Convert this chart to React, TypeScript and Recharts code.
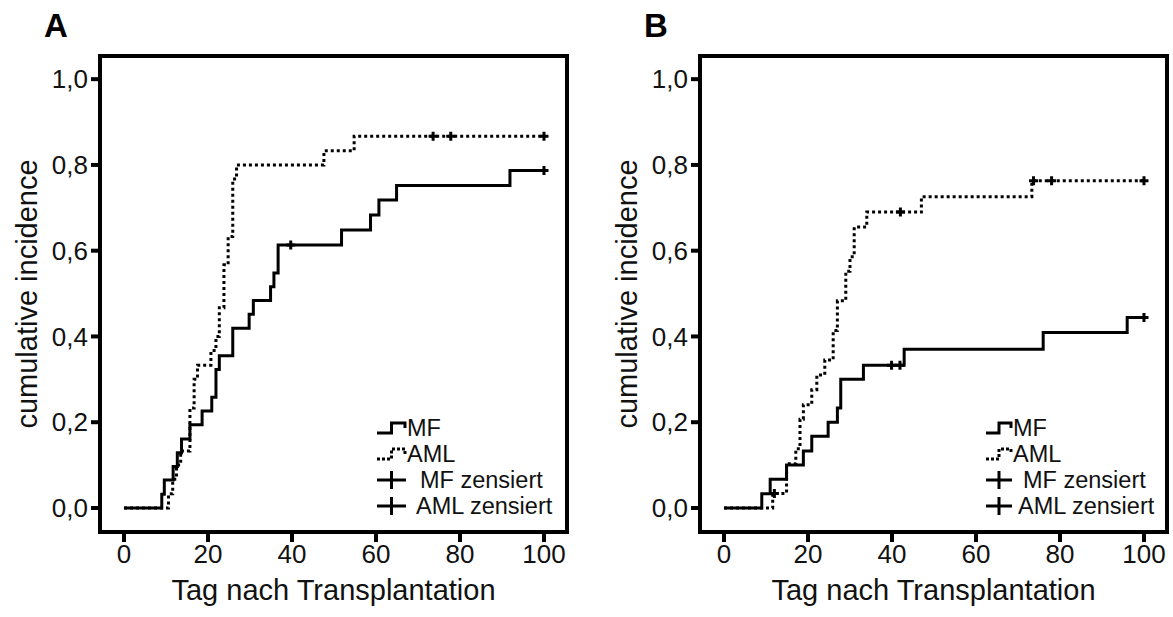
import { ComposedChart, Line, XAxis, YAxis, Scatter, ReferenceArea, Legend } from 'recharts';

const FONT = "'Liberation Sans', Arial, Helvetica, sans-serif";

const xTicks = [0, 20, 40, 60, 80, 100];
const yTicks = [0, 0.2, 0.4, 0.6, 0.8, 1.0];
const X_MIN = -5.71;
const X_MAX = 105.48;
const Y_MIN = -0.056;
const Y_MAX = 1.054;

const legendLabels = ['MF', 'AML', 'MF zensiert', 'AML zensiert'];

// Panel A - MF
const mfDaysA = [0, 9, 9.6, 11.7, 12.7, 13.7, 15.7, 18.6, 20.9, 21.9, 22.7, 25.9, 29.8, 30.8, 34.9, 35.7, 36.7, 51.8, 58.7, 60.7, 64.9, 91.9, 100];
const mfValuesA = [0, 0.032, 0.065, 0.097, 0.129, 0.161, 0.194, 0.226, 0.258, 0.323, 0.355, 0.419, 0.452, 0.484, 0.516, 0.548, 0.613, 0.648, 0.683, 0.718, 0.752, 0.787, 0.787];
const mfCensDaysA = [39.7, 100];
const mfCensValuesA = [0.613, 0.787];

// Panel A - AML
const amlDaysA = [0, 10.6, 11.6, 12.5, 13.5, 15.7, 16.7, 17.5, 20.7, 21.9, 22.7, 23.8, 24.8, 25.9, 26.8, 47.6, 54.8, 100];
const amlValuesA = [0, 0.033, 0.067, 0.1, 0.133, 0.233, 0.3, 0.333, 0.367, 0.4, 0.467, 0.567, 0.633, 0.767, 0.8, 0.833, 0.867, 0.867];
const amlCensDaysA = [73.6, 77.8, 100];
const amlCensValuesA = [0.867, 0.867, 0.867];

// Panel B - MF
const mfDaysB = [0, 9, 11, 14.9, 18.9, 20.9, 24.8, 27, 27.8, 33.2, 42.9, 76, 96, 100];
const mfValuesB = [0, 0.033, 0.067, 0.1, 0.133, 0.167, 0.2, 0.233, 0.3, 0.333, 0.37, 0.409, 0.444, 0.444];
const mfCensDaysB = [39.9, 41.9, 100];
const mfCensValuesB = [0.333, 0.333, 0.444];

// Panel B - AML
const amlDaysB = [0, 11.6, 14.9, 17.1, 18.1, 18.9, 20.9, 22.1, 24, 26, 27, 29, 30, 31, 34, 47, 73.3, 100];
const amlValuesB = [0, 0.034, 0.103, 0.138, 0.207, 0.241, 0.276, 0.31, 0.345, 0.414, 0.483, 0.552, 0.586, 0.655, 0.69, 0.726, 0.763, 0.763];
const amlCensDaysB = [12.0, 42, 73.7, 78, 100];
const amlCensValuesB = [0.034, 0.69, 0.763, 0.763, 0.763];

type Pt = { day: number; value: number };

const zip = (days: number[], values: number[]): Pt[] =>
  days.map((day, i) => ({ day, value: values[i] }));

function Cross(props: any) {
  const { cx, cy } = props;
  if (cx == null || cy == null) return null;
  return (
    <path
      d={`M${cx - 4.5},${cy}H${cx + 4.5}M${cx},${cy - 4.5}V${cy + 4.5}`}
      stroke="#000"
      strokeWidth={3}
      fill="none"
    />
  );
}

function StepIcon({ dashed, w }: { dashed?: boolean; w: number }) {
  return (
    <svg width={w} height={16} style={{ display: 'block' }}>
      <path
        d={`M1,13 H${w * 0.5} V3 H${w - 2} V8`}
        fill="none"
        stroke="#000"
        strokeWidth={3}
        strokeDasharray={dashed ? '3 2' : undefined}
      />
    </svg>
  );
}

function PlusIcon({ w }: { w: number }) {
  return (
    <svg width={w} height={20} style={{ display: 'block' }}>
      <path d={`M1,10 H${w - 1} M${w / 2},1 V19`} stroke="#000" strokeWidth={3} fill="none" />
    </svg>
  );
}

function LegendBox({ iconW, gaps }: { iconW: number; gaps: number[] }) {
  const row = { display: 'flex', alignItems: 'center', height: 26, lineHeight: '26px' } as const;
  return (
    <div style={{ fontFamily: FONT, fontSize: 23.5, color: '#111', whiteSpace: 'nowrap' }}>
      <div style={row}><StepIcon w={iconW} /><span style={{ marginLeft: gaps[0] }}>{legendLabels[0]}</span></div>
      <div style={row}><StepIcon w={iconW} dashed /><span style={{ marginLeft: gaps[1] }}>{legendLabels[1]}</span></div>
      <div style={row}><PlusIcon w={iconW} /><span style={{ marginLeft: gaps[2] }}>{legendLabels[2]}</span></div>
      <div style={row}><PlusIcon w={iconW} /><span style={{ marginLeft: gaps[3] }}>{legendLabels[3]}</span></div>
    </div>
  );
}

interface PanelProps {
  letter: string;
  left: number;
  width: number;
  marginRight: number;
  mf: Pt[];
  aml: Pt[];
  mfCens: Pt[];
  amlCens: Pt[];
  legendLeft: number;
  iconW: number;
  gaps: number[];
}

function Panel({ letter, left, width, marginRight, mf, aml, mfCens, amlCens, legendLeft, iconW, gaps }: PanelProps) {
  const tickStyle = { fill: '#111', fontSize: 26, fontFamily: FONT };
  const titleStyle = { fill: '#111', fontSize: 29, fontFamily: FONT };
  return (
    <div style={{ position: 'absolute', left, top: 0, width, height: 617 }}>
      <div style={{ position: 'absolute', left: 44, top: 7, fontFamily: FONT, fontWeight: 'bold', fontSize: 33, lineHeight: '38px', color: '#000' }}>
        {letter}
      </div>
      <ComposedChart width={width} height={617} margin={{ top: 56, right: marginRight, bottom: 0, left: 0 }}>
        <XAxis
          type="number"
          dataKey="day"
          domain={[X_MIN, X_MAX]}
          allowDataOverflow
          ticks={xTicks}
          axisLine={false}
          tickLine={{ stroke: '#000', strokeWidth: 4 }}
          tickSize={10}
          tickMargin={3}
          tick={tickStyle}
          height={85}
          label={{ value: 'Tag nach Transplantation', position: 'insideBottom', offset: 17, style: titleStyle }}
        />
        <YAxis
          type="number"
          dataKey="value"
          domain={[Y_MIN, Y_MAX]}
          allowDataOverflow
          ticks={yTicks}
          tickFormatter={(v: number) => v.toFixed(1).replace('.', ',')}
          axisLine={false}
          tickLine={{ stroke: '#000', strokeWidth: 4 }}
          tickSize={9}
          tickMargin={3}
          tick={tickStyle}
          width={100}
          label={{ value: 'cumulative incidence', angle: -90, position: 'insideLeft', offset: 27, style: { ...titleStyle, textAnchor: 'middle' } }}
        />
        <Line data={aml} dataKey="value" type="stepAfter" stroke="#000" strokeWidth={3} strokeDasharray="3 3" dot={false} isAnimationActive={false} />
        <Line data={mf} dataKey="value" type="stepAfter" stroke="#000" strokeWidth={3} dot={false} isAnimationActive={false} />
        <Scatter data={mfCens} dataKey="value" shape={(p: any) => <Cross {...p} />} isAnimationActive={false} />
        <Scatter data={amlCens} dataKey="value" shape={(p: any) => <Cross {...p} />} isAnimationActive={false} />
        <ReferenceArea x1={X_MIN} x2={X_MAX} y1={Y_MIN} y2={Y_MAX} fill="none" stroke="#000" strokeWidth={4} />
        <Legend
          layout="vertical"
          align="center"
          verticalAlign="middle"
          content={() => <LegendBox iconW={iconW} gaps={gaps} />}
          wrapperStyle={{ left: legendLeft, top: 415, width: 200 }}
        />
      </ComposedChart>
    </div>
  );
}

export default function App() {
  return (
    <div style={{ position: 'absolute', left: 0, top: 0, width: 1173, height: 617, background: '#fff' }}>
      <Panel
        letter="A"
        left={0}
        width={590}
        marginRight={23}
        mf={zip(mfDaysA, mfValuesA)}
        aml={zip(amlDaysA, amlValuesA)}
        mfCens={zip(mfCensDaysA, mfCensValuesA)}
        amlCens={zip(amlCensDaysA, amlCensValuesA)}
        legendLeft={376}
        iconW={31}
        gaps={[0, 0, 13, 9]}
      />
      <Panel
        letter="B"
        left={600}
        width={573}
        marginRight={6}
        mf={zip(mfDaysB, mfValuesB)}
        aml={zip(amlDaysB, amlValuesB)}
        mfCens={zip(mfCensDaysB, mfCensValuesB)}
        amlCens={zip(amlCensDaysB, amlCensValuesB)}
        legendLeft={385}
        iconW={28}
        gaps={[0, 0, 10, 5]}
      />
    </div>
  );
}
